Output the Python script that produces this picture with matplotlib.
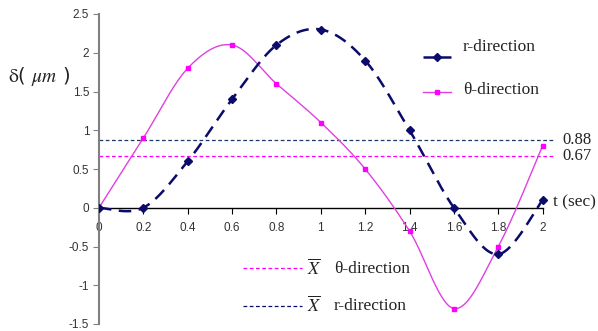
import numpy as np
import matplotlib
matplotlib.use("Agg")
import matplotlib.pyplot as plt
from matplotlib.lines import Line2D

t = [0, 0.2, 0.4, 0.6, 0.8, 1.0, 1.2, 1.4, 1.6, 1.8, 2.0]
r_dir = [0, 0, 0.6, 1.4, 2.1, 2.3, 1.9, 1.0, 0.0, -0.6, 0.1]
theta_dir = [0, 0.9, 1.8, 2.1, 1.6, 1.1, 0.5, -0.3, -1.3, -0.5, 0.8]
mean_r = 0.88
mean_theta = 0.67
xticks = [0, 0.2, 0.4, 0.6, 0.8, 1, 1.2, 1.4, 1.6, 1.8, 2]
yticks = [-1.5, -1, -0.5, 0, 0.5, 1, 1.5, 2, 2.5]

NAVY = "#0b0b6b"
MAG = "#ff00ff"
MAG_LINE = "#e040e0"

plt.rcParams['mathtext.fontset'] = 'stix'


def smooth(x, y, n=30):
    x = np.asarray(x, float); y = np.asarray(y, float)
    px = np.concatenate([[x[0]], x, [x[-1]]])
    py = np.concatenate([[y[0]], y, [y[-1]]])
    xs, ys = [], []
    s = np.linspace(0, 1, n)
    for i in range(1, len(px) - 2):
        p0, p1, p2, p3 = [np.array([px[j], py[j]]) for j in range(i - 1, i + 3)]
        for u in s:
            pt = 0.5 * ((2 * p1) + (-p0 + p2) * u + (2 * p0 - 5 * p1 + 4 * p2 - p3) * u ** 2
                        + (-p0 + 3 * p1 - 3 * p2 + p3) * u ** 3)
            xs.append(pt[0]); ys.append(pt[1])
    return np.array(xs), np.array(ys)


W, H = 598, 331
fig = plt.figure(figsize=(W / 100, H / 100), dpi=100)
ax = fig.add_axes([99 / W, 7 / H, 488 / W, 310 / H])
ax.set_xlim(0, 2.2)
ax.set_ylim(-1.5, 2.5)

for s in ['top', 'right']:
    ax.spines[s].set_visible(False)
ax.spines['left'].set_color('#808080')
ax.spines['left'].set_linewidth(1.5)
ax.spines['bottom'].set_position(('data', 0))
ax.spines['bottom'].set_bounds(0, 2)
ax.spines['bottom'].set_color('black')
ax.spines['bottom'].set_linewidth(1.0)

ax.set_yticks(yticks)
ax.set_yticklabels([f"{v:g}" for v in yticks])
ax.set_xticks(xticks)
ax.set_xticklabels([f"{v:g}" for v in xticks])
ax.tick_params(axis='y', direction='out', length=4, color='#808080', labelsize=8.5,
               labelcolor='#333333', pad=3)
ax.tick_params(axis='x', direction='out', length=4, color='black', labelsize=8.5,
               labelcolor='#333333', pad=6)
for lab in ax.get_xticklabels() + ax.get_yticklabels():
    lab.set_family('Liberation Sans')

# mean lines
ax.plot([0, 2.05], [mean_r, mean_r], color='#1a3a6a', lw=0.9, ls=(0, (3, 2)))
ax.plot([0, 2.05], [mean_theta, mean_theta], color=MAG, lw=0.9, ls=(0, (3, 2)))
ax.text(2.09, mean_r, f"{mean_r:.2f}", va='center', ha='left', fontsize=12,
        family='Liberation Serif', color='#222222')
ax.text(2.09, mean_theta, f"{mean_theta:.2f}", va='center', ha='left', fontsize=12,
        family='Liberation Serif', color='#222222')

# curves
xs, ys = smooth(t, theta_dir)
ax.plot(xs, ys, color=MAG_LINE, lw=1.0, zorder=3)
ax.plot(t, theta_dir, ls='none', marker='s', ms=3.2, color=MAG, zorder=4)
xs, ys = smooth(t, r_dir)
ax.plot(xs, ys, color=NAVY, lw=1.8, ls=(0, (5, 3)), zorder=5)
ax.plot(t, r_dir, ls='none', marker='D', ms=4.5, color=NAVY, zorder=6)

# axis labels
ax.text(2.045, 0.07, "t (sec)", fontsize=12.5, family='Liberation Serif', color='#222222',
        ha='left', va='center')


def fx(px):
    return px / W


def fy(py):
    return 1 - py / H


fig.text(fx(8), fy(76), r"$\mathrm{\delta}$( $\mu m$ )", fontsize=14, ha='left', va='center',
         color='#222222')

# legend (top)
fig.add_artist(Line2D([fx(423), fx(451)], [fy(57), fy(57)], color=NAVY, lw=1.8,
                      ls=(0, (5, 2))))
fig.add_artist(Line2D([fx(437)], [fy(57)], color=NAVY, marker='D', ms=4.5, ls='none'))
fig.text(fx(463), fy(47), "r-direction", fontsize=12.5, family='Liberation Serif',
         ha='left', va='center', color='#222222')
fig.add_artist(Line2D([fx(423), fx(451)], [fy(92), fy(92)], color=MAG_LINE, lw=1.0))
fig.add_artist(Line2D([fx(437)], [fy(92)], color=MAG, marker='s', ms=3.2, ls='none'))
fig.text(fx(463), fy(90), "θ-direction", fontsize=12.5, family='Liberation Serif',
         ha='left', va='center', color='#222222')

# legend (bottom)
fig.add_artist(Line2D([fx(243), fx(302)], [fy(268), fy(268)], color=MAG, lw=0.9,
                      ls=(0, (3, 2))))
fig.text(fx(307), fy(268), r"$\overline{X}$", fontsize=13, ha='left', va='center', color='#222222')
fig.text(fx(334), fy(269), "θ-direction", fontsize=12.5, family='Liberation Serif',
         ha='left', va='center', color='#222222')
fig.add_artist(Line2D([fx(243), fx(302)], [fy(306), fy(306)], color=NAVY, lw=0.9,
                      ls=(0, (3, 2))))
fig.text(fx(307), fy(305), r"$\overline{X}$", fontsize=13, ha='left', va='center', color='#222222')
fig.text(fx(334), fy(306), "r-direction", fontsize=12.5, family='Liberation Serif',
         ha='left', va='center', color='#222222')

fig.savefig("out.png", dpi=100)
